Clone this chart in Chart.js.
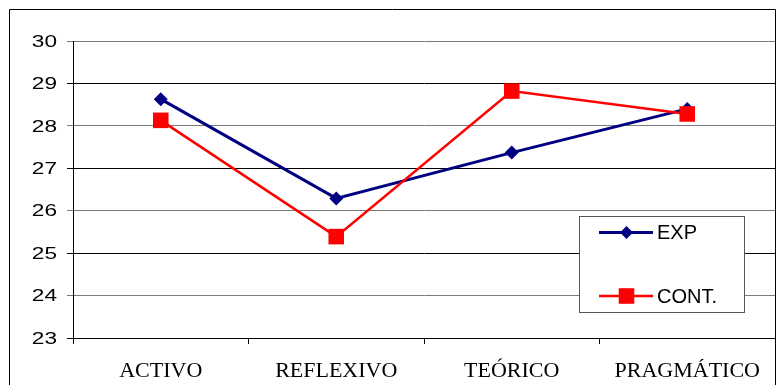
<!DOCTYPE html>
<html>
<head>
<meta charset="utf-8">
<script src="https://cdn.jsdelivr.net/npm/chart.js@4/dist/chart.umd.min.js"></script>
<style>
  html, body { margin: 0; padding: 0; background: #ffffff; }
  #wrap { width: 777px; height: 385px; position: relative; }
</style>
</head>
<body>
<div id="wrap"><canvas id="c" width="777" height="385"></canvas></div>
<script>
// Learning-style scores by group
const categories = ['ACTIVO', 'REFLEXIVO', 'TEÓRICO', 'PRAGMÁTICO'];
const expValues = [28.63, 26.29, 27.37, 28.40];
const contValues = [28.13, 25.39, 28.82, 28.28];
const seriesNames = ['EXP', 'CONT.'];
const yMin = 23, yMax = 30, yStep = 1;

const NAVY = '#000080';
const RED = '#ff0000';

// White page, thin frame round the chart
const framePlugin = {
  id: 'frame',
  beforeDraw(chart) {
    const ctx = chart.ctx;
    ctx.save();
    ctx.fillStyle = '#ffffff';
    ctx.fillRect(0, 0, chart.width, chart.height);
    ctx.strokeStyle = '#000000';
    ctx.lineWidth = 1;
    ctx.beginPath();
    ctx.moveTo(9.5, chart.height + 5);
    ctx.lineTo(9.5, 9.5);
    ctx.lineTo(775.5, 9.5);
    ctx.lineTo(775.5, chart.height + 5);
    ctx.stroke();
    ctx.restore();
  }
};

// Value labels of the y axis, drawn slightly widened
const yLabelPlugin = {
  id: 'yLabels',
  afterDraw(chart) {
    const scale = chart.scales.y;
    const ctx = chart.ctx;
    ctx.save();
    ctx.fillStyle = '#000000';
    ctx.font = '17px "Liberation Sans", Arial, sans-serif';
    ctx.textAlign = 'right';
    ctx.textBaseline = 'middle';
    scale.ticks.forEach(t => {
      const y = scale.getPixelForValue(t.value);
      ctx.save();
      ctx.translate(57, y + 1);
      ctx.scale(1.33, 1);
      ctx.fillText(String(t.value), 0, 0);
      ctx.restore();
    });
    ctx.restore();
  }
};

// Boxed legend inside the plot area
const boxLegendPlugin = {
  id: 'boxLegend',
  afterDraw(chart) {
    const ctx = chart.ctx;
    const box = { x: 579.5, y: 216.5, w: 165, h: 96 };
    ctx.save();
    ctx.fillStyle = '#ffffff';
    ctx.fillRect(box.x, box.y, box.w, box.h);
    ctx.strokeStyle = '#555555';
    ctx.lineWidth = 1;
    ctx.strokeRect(box.x, box.y, box.w, box.h);
    const rows = [232.5, 296];
    chart.data.datasets.forEach((ds, i) => {
      const y = rows[i];
      ctx.strokeStyle = ds.borderColor;
      ctx.lineWidth = ds.borderWidth;
      ctx.beginPath();
      ctx.moveTo(599, y);
      ctx.lineTo(653, y);
      ctx.stroke();
      ctx.fillStyle = ds.backgroundColor;
      ctx.strokeStyle = ds.borderColor;
      Chart.helpers.drawPoint(ctx, {
        pointStyle: ds.pointStyle,
        radius: ds.legendRadius,
        rotation: 0,
        borderWidth: 0
      }, 626.5, y);
      ctx.fillStyle = '#000000';
      ctx.font = '20px "Liberation Sans", Arial, sans-serif';
      ctx.textAlign = 'left';
      ctx.textBaseline = 'middle';
      ctx.fillText(ds.label, 657, y + 1);
    });
    ctx.restore();
  }
};

new Chart(document.getElementById('c'), {
  type: 'line',
  data: {
    labels: categories,
    datasets: [
      {
        label: seriesNames[0],
        data: expValues,
        borderColor: NAVY,
        backgroundColor: NAVY,
        borderWidth: 3,
        pointStyle: 'rectRot',
        pointRadius: 7,
        pointBorderWidth: 0,
        legendRadius: 6.5,
        tension: 0,
        order: 2
      },
      {
        label: seriesNames[1],
        data: contValues,
        borderColor: RED,
        backgroundColor: RED,
        borderWidth: 2.5,
        pointStyle: 'rect',
        pointRadius: 11,
        pointBorderWidth: 0,
        legendRadius: 11,
        tension: 0,
        order: 1
      }
    ]
  },
  options: {
    responsive: false,
    animation: false,
    devicePixelRatio: 1,
    layout: { autoPadding: false, padding: { left: 0, top: 41, right: 2, bottom: 0 } },
    plugins: {
      legend: { display: false },
      tooltip: { enabled: false }
    },
    scales: {
      x: {
        type: 'category',
        offset: true,
        grid: {
          offset: true,
          drawOnChartArea: false,
          drawTicks: true,
          tickLength: 6,
          color: '#000000',
          lineWidth: 1
        },
        border: { display: true, color: '#000000', width: 1 },
        ticks: {
          color: '#000000',
          padding: 14,
          maxRotation: 0,
          autoSkip: false,
          font: { family: '"Liberation Serif", "Times New Roman", serif', size: 22 }
        },
        afterFit(scale) {
          scale.height = 47;
          scale.paddingLeft = 0;
          scale.paddingRight = 0;
        }
      },
      y: {
        min: yMin,
        max: yMax,
        ticks: {
          stepSize: yStep,
          display: false
        },
        grid: {
          drawTicks: true,
          tickLength: 6,
          lineWidth: 1,
          color: (c) => (c.tick && c.tick.value % 2 === 0) ? '#7a7a7a' : '#000000'
        },
        border: { display: true, color: '#000000', width: 1 },
        afterFit(scale) {
          scale.width = 73;
          scale.paddingTop = 0;
          scale.paddingBottom = 0;
        }
      }
    }
  },
  plugins: [framePlugin, yLabelPlugin, boxLegendPlugin]
});
</script>
</body>
</html>
